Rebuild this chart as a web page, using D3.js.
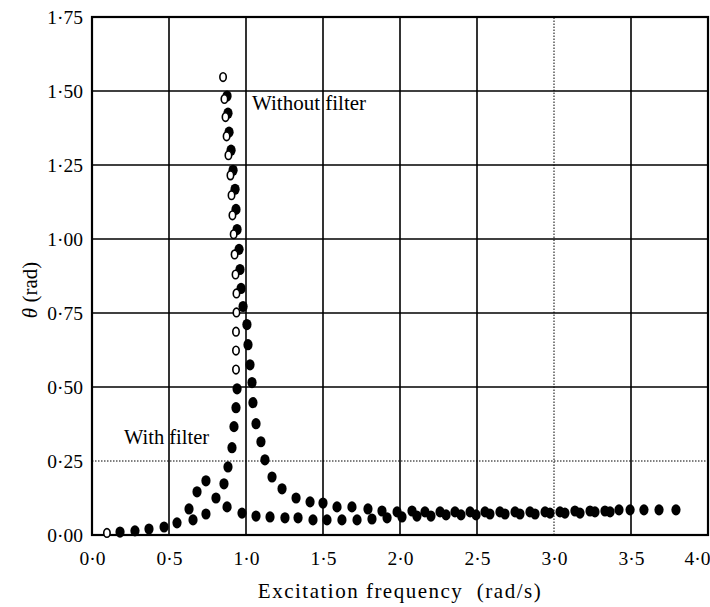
<!DOCTYPE html>
<html>
<head>
<meta charset="utf-8">
<script src="https://cdn.jsdelivr.net/npm/d3@7"></script>
<style>
  html, body { margin: 0; padding: 0; background: #fff; }
  svg { display: block; }
  text { font-family: "Liberation Serif", "Times New Roman", serif; fill: #000; }
</style>
</head>
<body>
<script>
// ---------- data ----------
const xTickValues = [0, 0.5, 1.0, 1.5, 2.0, 2.5, 3.0, 3.5, 4.0];
const xTickLabels = ["0·0", "0·5", "1·0", "1·5", "2·0", "2·5", "3·0", "3·5", "4·0"];
const yTickValues = [0, 0.25, 0.5, 0.75, 1.0, 1.25, 1.5, 1.75];
const yTickLabels = ["0·00", "0·25", "0·50", "0·75", "1·00", "1·25", "1·50", "1·75"];
const dottedX = [3.0];
const dottedY = [0.25];

// With filter (filled markers)
const withFilterX = [0.182, 0.279, 0.370, 0.468, 0.552, 0.630, 0.682, 0.740, 0.877, 0.974,
  1.065, 1.156, 1.253, 1.338, 1.435, 1.526, 1.623, 1.721, 1.818, 1.916,
  2.013, 2.110, 2.201, 2.299, 2.396, 2.494, 2.584, 2.682, 2.779, 2.877,
  2.974, 3.071, 3.169, 3.266, 3.364, 3.494, 3.584, 3.682, 3.792];
const withFilterY = [0.010, 0.014, 0.020, 0.027, 0.041, 0.088, 0.146, 0.183, 0.095, 0.074,
  0.064, 0.061, 0.058, 0.058, 0.051, 0.051, 0.051, 0.051, 0.054, 0.058,
  0.061, 0.064, 0.064, 0.068, 0.068, 0.068, 0.071, 0.071, 0.071, 0.071,
  0.074, 0.074, 0.074, 0.078, 0.078, 0.085, 0.085, 0.085, 0.085];

// Without filter (filled markers)
const withoutFilterX = [0.656, 0.740, 0.805, 0.857, 0.883, 0.909, 0.922, 0.935, 0.942,
  0.877, 0.883, 0.890, 0.903, 0.916, 0.929, 0.935, 0.942, 0.955, 0.961,
  0.968, 0.981, 1.006, 1.013, 1.026, 1.039, 1.045, 1.065, 1.097, 1.123,
  1.169, 1.234, 1.325, 1.416, 1.500, 1.591, 1.688, 1.792, 1.883, 1.981,
  2.078, 2.162, 2.260, 2.357, 2.455, 2.552, 2.649, 2.747, 2.844, 2.942,
  3.039, 3.136, 3.234, 3.331, 3.422];
const withoutFilterY = [0.051, 0.071, 0.125, 0.173, 0.230, 0.295, 0.366, 0.430, 0.494,
  1.483, 1.425, 1.361, 1.300, 1.232, 1.168, 1.100, 1.032, 0.965, 0.897,
  0.833, 0.772, 0.711, 0.643, 0.575, 0.515, 0.447, 0.376, 0.315, 0.254,
  0.196, 0.156, 0.125, 0.112, 0.108, 0.095, 0.095, 0.088, 0.081, 0.078,
  0.081, 0.078, 0.078, 0.078, 0.078, 0.078, 0.078, 0.078, 0.078, 0.078,
  0.078, 0.081, 0.081, 0.081, 0.085];

// Without filter (open markers)
const withoutFilterOpenX = [0.097, 0.851, 0.860, 0.867, 0.874, 0.886, 0.899, 0.906, 0.912,
  0.920, 0.926, 0.932, 0.938, 0.938, 0.935, 0.935, 0.935];
const withoutFilterOpenY = [0.007, 1.547, 1.473, 1.412, 1.347, 1.283, 1.215, 1.148, 1.080,
  1.016, 0.948, 0.880, 0.816, 0.752, 0.687, 0.623, 0.559];

// ---------- layout ----------
const W = 710, H = 607;
const m = { left: 92, top: 17, right: 2, bottom: 72 };
const pw = W - m.left - m.right, ph = H - m.top - m.bottom;

const x = d3.scaleLinear().domain([0, 4]).range([m.left, m.left + pw]);
const y = d3.scaleLinear().domain([0, 1.75]).range([m.top + ph, m.top]);

const svg = d3.select("body").append("svg").attr("width", W).attr("height", H);

// grid
const g = svg.append("g");
g.selectAll("line.vx").data(xTickValues.filter(v => v > 0 && v < 4)).join("line")
  .attr("x1", d => x(d)).attr("x2", d => x(d))
  .attr("y1", y(0)).attr("y2", y(1.75))
  .attr("stroke", "#000")
  .attr("stroke-width", d => dottedX.includes(d) ? 1 : 1.6)
  .attr("stroke-dasharray", d => dottedX.includes(d) ? "1.5,1.5" : null);
g.selectAll("line.hy").data(yTickValues.filter(v => v > 0 && v < 1.75)).join("line")
  .attr("x1", x(0)).attr("x2", x(4))
  .attr("y1", d => y(d)).attr("y2", d => y(d))
  .attr("stroke", "#000")
  .attr("stroke-width", d => dottedY.includes(d) ? 1 : 1.6)
  .attr("stroke-dasharray", d => dottedY.includes(d) ? "1.5,1.5" : null);

// frame
svg.append("rect").attr("x", x(0)).attr("y", y(1.75))
  .attr("width", x(4) - x(0)).attr("height", y(0) - y(1.75))
  .attr("fill", "none").attr("stroke", "#000").attr("stroke-width", 2.2);

// axes (labels only, via d3 axes)
const xAxis = d3.axisBottom(x).tickValues(xTickValues)
  .tickFormat((d, i) => xTickLabels[i]).tickSize(0).tickPadding(24);
const xg = svg.append("g").attr("transform", `translate(0,${y(0)})`).call(xAxis);
xg.select(".domain").remove();
xg.selectAll("text").attr("font-size", 19.5).attr("font-family", "Liberation Serif")
  .attr("dy", "0.3em")
  .attr("dx", (d) => d === 4 ? -11 : 0);

const yAxis = d3.axisLeft(y).tickValues(yTickValues)
  .tickFormat((d, i) => yTickLabels[i]).tickSize(0).tickPadding(9);
const yg = svg.append("g").attr("transform", `translate(${x(0)},0)`).call(yAxis);
yg.select(".domain").remove();
yg.selectAll("text").attr("font-size", 19.5).attr("font-family", "Liberation Serif");

// axis titles
svg.append("text").attr("x", 400).attr("y", 598).attr("text-anchor", "middle")
  .attr("font-size", 21).attr("letter-spacing", 1.5).attr("xml:space", "preserve")
  .text("Excitation frequency  (rad/s)");
const yt = svg.append("text").attr("transform", "translate(37,290) rotate(-90)")
  .attr("text-anchor", "middle").attr("font-size", 21);
yt.append("tspan").attr("font-style", "italic").text("θ");
yt.append("tspan").text(" (rad)");

// annotations
svg.append("text").attr("x", 252).attr("y", 110).attr("font-size", 21).text("Without filter");
svg.append("text").attr("x", 124).attr("y", 444).attr("font-size", 20.5).text("With filter");

// markers
const filled = withFilterX.map((v, i) => ({ x: v, y: withFilterY[i] }))
  .concat(withoutFilterX.map((v, i) => ({ x: v, y: withoutFilterY[i] })));
svg.append("g").selectAll("ellipse").data(filled).join("ellipse")
  .attr("cx", d => x(d.x)).attr("cy", d => y(d.y))
  .attr("rx", 4.6).attr("ry", 5.6).attr("fill", "#000");

const open = withoutFilterOpenX.map((v, i) => ({ x: v, y: withoutFilterOpenY[i] }));
svg.append("g").selectAll("ellipse").data(open).join("ellipse")
  .attr("cx", d => x(d.x)).attr("cy", d => y(d.y))
  .attr("rx", 3.2).attr("ry", 4.3).attr("fill", "#fff")
  .attr("stroke", "#000").attr("stroke-width", 1.6);
</script>
</body>
</html>
